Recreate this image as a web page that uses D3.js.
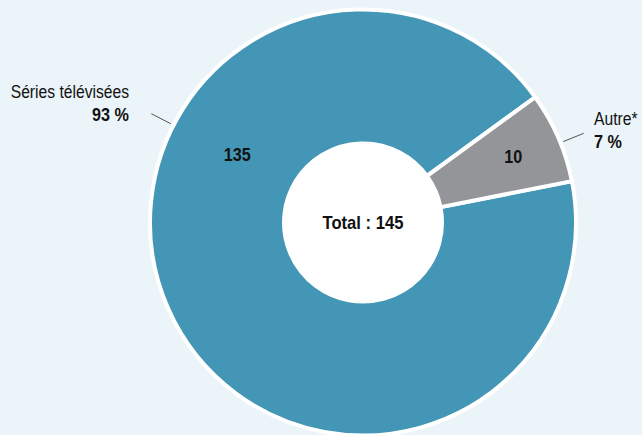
<!DOCTYPE html>
<html>
<head>
<meta charset="utf-8">
<script src="https://cdn.jsdelivr.net/npm/d3@7/dist/d3.min.js"></script>
<style>
  html, body { margin: 0; padding: 0; background: #ebf4f8; }
  svg { display: block; }
  text { font-family: "Liberation Sans", Arial, sans-serif; fill: #111; }
</style>
</head>
<body>
<svg id="chart" width="642" height="435"></svg>
<script>
// Répartition des titres par genre
const categories = ["Séries télévisées", "Autre*"];
const values = [135, 10];
const percentLabels = ["93 %", "7 %"];
const colors = ["#4396b5", "#939598"];
const totalLabel = "Total : 145";

const width = 642, height = 435;
const cx = 363, cy = 222.5;
const outerR = 213, innerR = 79;
const deg = Math.PI / 180;
const narrow = 0.87;      // horizontal squeeze for a condensed look
const narrowBold = 0.9;

const svg = d3.select("#chart");
svg.append("rect").attr("width", width).attr("height", height).attr("fill", "#ebf4f8");

const g = svg.append("g").attr("transform", `translate(${cx},${cy})`);

const pie = d3.pie().sort(null).value(d => d)
  .startAngle(78.8 * deg).endAngle(78.8 * deg + 2 * Math.PI);
const arcs = pie(values);

const arc = d3.arc().innerRadius(innerR).outerRadius(outerR);

g.selectAll("path.slice")
  .data(arcs)
  .join("path")
  .attr("class", "slice")
  .attr("d", arc)
  .attr("fill", (d, i) => colors[i])
  .attr("stroke", "#fff")
  .attr("stroke-width", 4)
  .attr("stroke-linejoin", "miter");

// white hole
g.append("circle").attr("r", innerR).attr("fill", "#fff");

// condensed text helper
function label(parent, x, y, str, opts) {
  const bold = !!opts.bold;
  const s = bold ? narrowBold : narrow;
  return parent.append("text")
    .attr("transform", `translate(${x},${y}) scale(${s},1)`)
    .attr("text-anchor", opts.anchor || "middle")
    .attr("dy", opts.dy || null)
    .attr("font-size", opts.size || 18)
    .attr("font-weight", bold ? "bold" : null)
    .text(str);
}

label(g, 0, 0, totalLabel, { bold: true, dy: "0.36em", size: 18.5 });

// value labels: big slice placed in its upper-left area, small slice at its centroid
const labelAngles = [-61.5 * deg, null];
const labelRadii = [143, 164];
arcs.forEach((a, i) => {
  const ang = labelAngles[i] !== null ? labelAngles[i] : (a.startAngle + a.endAngle) / 2;
  const r = labelRadii[i];
  label(g, r * Math.sin(ang), -r * Math.cos(ang), values[i], { bold: true, dy: "0.36em" });
});

// leader lines and outside labels
const leaderAngles = [-62.8 * deg, 68 * deg];
leaderAngles.forEach(ang => {
  g.append("line")
    .attr("x1", 216 * Math.sin(ang)).attr("y1", -216 * Math.cos(ang))
    .attr("x2", 238 * Math.sin(ang)).attr("y2", -238 * Math.cos(ang))
    .attr("stroke", "#555").attr("stroke-width", 1);
});

const outside = [
  { x: 129, y: 98, anchor: "end" },
  { x: 594, y: 125, anchor: "start" }
];
categories.forEach((c, i) => {
  label(svg, outside[i].x, outside[i].y, c, { anchor: outside[i].anchor });
  label(svg, outside[i].x, outside[i].y + 23, percentLabels[i], { anchor: outside[i].anchor, bold: true });
});
</script>
</body>
</html>
